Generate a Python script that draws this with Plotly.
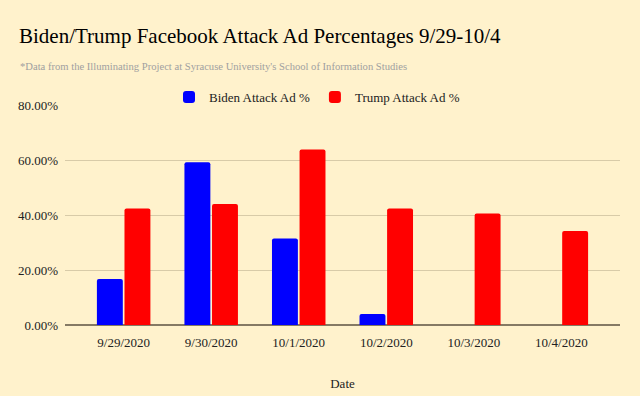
import plotly.graph_objects as go

dates = ["9/29/2020", "9/30/2020", "10/1/2020", "10/2/2020", "10/3/2020", "10/4/2020"]
biden = [0.167, 0.592, 0.315, 0.040, None, None]
trump = [0.424, 0.440, 0.638, 0.424, 0.405, 0.342]
yticks = [0, 0.2, 0.4, 0.6, 0.8]

SERIF = "Liberation Serif, Times New Roman, serif"
BG = "#fff2cc"

fig = go.Figure()
fig.add_trace(go.Bar(name="Biden Attack Ad %", x=dates, y=biden, marker_color="#0000ff",
                     marker_line_width=0, marker_cornerradius=2))
fig.add_trace(go.Bar(name="Trump Attack Ad %", x=dates, y=trump, marker_color="#ff0000",
                     marker_line_width=0, marker_cornerradius=2))

fig.update_layout(
    width=640, height=396,
    paper_bgcolor=BG, plot_bgcolor=BG,
    margin=dict(l=65, r=20, t=105, b=71),
    barmode="group", bargap=0.37, bargroupgap=0.06,
    font=dict(family=SERIF, size=13, color="#222222"),
    title=dict(text="Biden/Trump Facebook Attack Ad Percentages 9/29-10/4",
               x=19/640, xanchor="left", y=1-36/396, yanchor="middle",
               font=dict(family=SERIF, size=21, color="#000000")),
    legend=dict(orientation="h", x=(317-65)/555, xanchor="center", y=1+(105-97)/220, yanchor="middle",
                font=dict(family=SERIF, size=13, color="#222222"), bgcolor="rgba(0,0,0,0)",
                itemsizing="constant", itemwidth=30),
    showlegend=True,
)
fig.add_annotation(text="*Data from the Illuminating Project at Syracuse University's School of Information Studies",
                   xref="paper", yref="paper", x=-47/555, xanchor="left",
                   y=1+(105-66)/220, yanchor="middle", showarrow=False,
                   font=dict(family=SERIF, size=10.6, color="#a0a0a0"))
fig.update_xaxes(range=[-0.67, 5.67], showgrid=False, showline=False, zeroline=False,
                 automargin=False,
                 tickfont=dict(family=SERIF, size=13, color="#222222"), ticks="",
                 ticklabelstandoff=8,
                 title=dict(text="Date", font=dict(family=SERIF, size=13, color="#222222"), standoff=29))
fig.update_yaxes(range=[0, 0.8], tickvals=yticks, tickformat=".2%", showgrid=True,
                 automargin=False,
                 gridcolor="#d8cba8", gridwidth=1, zeroline=True, zerolinecolor="#857a64",
                 zerolinewidth=2, showline=False, ticks="", ticklabelstandoff=6,
                 tickfont=dict(family=SERIF, size=13, color="#222222"))
fig.write_html("out.html", config={"displayModeBar": False},
               post_script="document.body.style.margin='0';document.body.style.background='#fff2cc';")
